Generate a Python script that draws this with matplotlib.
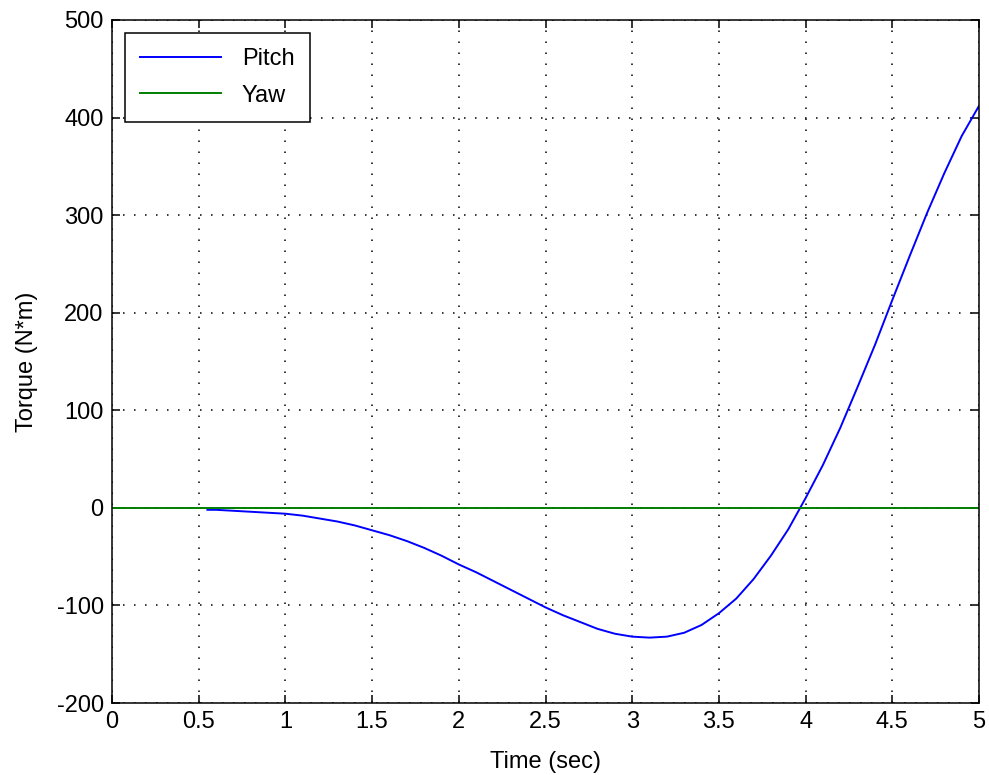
import matplotlib
matplotlib.use("Agg")
import matplotlib.pyplot as plt

# Simulated control torques
time_pitch = [0.55, 0.6, 0.7, 0.8, 0.9, 1.0, 1.1, 1.2, 1.3, 1.4, 1.5, 1.6, 1.7, 1.8,
              1.9, 2.0, 2.1, 2.2, 2.3, 2.4, 2.5, 2.6, 2.7, 2.8, 2.9, 3.0, 3.1, 3.2,
              3.3, 3.4, 3.5, 3.6, 3.7, 3.8, 3.9, 4.0, 4.1, 4.2, 4.3, 4.4, 4.5, 4.6,
              4.7, 4.8, 4.9, 5.0]
torque_pitch = [-2, -2, -3, -4, -5, -6, -8, -11, -14, -18, -23, -28, -34, -41,
                -49, -58, -66, -75, -84, -93, -102, -110, -117, -124, -129, -132, -133, -132,
                -128, -120, -108, -93, -73, -49, -22, 10, 44, 82, 124, 167, 213, 258,
                302, 343, 381, 412]
time_yaw = [0.0, 5.0]
torque_yaw = [0, 0]

x_ticks = [0, 0.5, 1, 1.5, 2, 2.5, 3, 3.5, 4, 4.5, 5]
x_tick_labels = ["0", "0.5", "1", "1.5", "2", "2.5", "3", "3.5", "4", "4.5", "5"]
y_ticks = [-200, -100, 0, 100, 200, 300, 400, 500]
y_tick_labels = ["-200", "-100", "0", "100", "200", "300", "400", "500"]

plt.rcParams["font.family"] = ["Liberation Sans", "DejaVu Sans"]
plt.rcParams["font.size"] = 17

fig = plt.figure(figsize=(9.89, 7.75), dpi=100)
ax = fig.add_axes([112 / 989, 1 - 703 / 775, (979 - 112) / 989, (703 - 20) / 775])

ax.plot(time_pitch, torque_pitch, color=(0, 0, 1), lw=1.4, label="Pitch")
ax.plot(time_yaw, torque_yaw, color=(0, 0.5, 0), lw=1.4, label="Yaw")

ax.set_xlim(0, 5)
ax.set_ylim(-200, 500)
ax.set_xticks(x_ticks)
ax.set_xticklabels(x_tick_labels)
ax.set_yticks(y_ticks)
ax.set_yticklabels(y_tick_labels)

ax.grid(True, color="black", linestyle=(0, (1, 6.2)), linewidth=1.1)
ax.tick_params(direction="in", top=True, right=True, length=6, width=1.1, pad=6)
for s in ax.spines.values():
    s.set_linewidth(1.1)

ax.set_xlabel("Time (sec)", labelpad=13)
ax.set_ylabel("Torque (N*m)", labelpad=13)

leg = ax.legend(loc="upper left", bbox_to_anchor=(13 / 867, 1 - 13 / 683),
                fancybox=False, edgecolor="black", framealpha=1,
                handlelength=3.4, handletextpad=0.9, borderpad=0.65,
                labelspacing=0.6, borderaxespad=0)
leg.get_frame().set_linewidth(1.1)

fig.savefig("out.png", dpi=100)
